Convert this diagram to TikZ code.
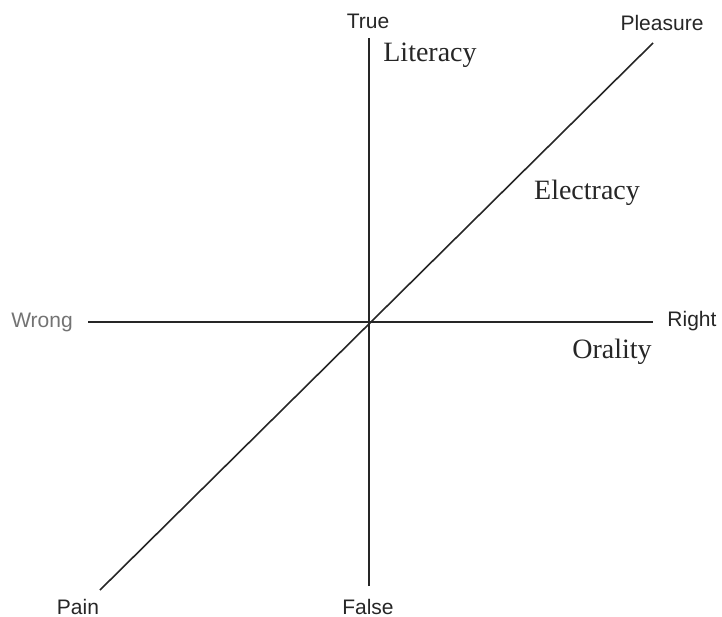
\documentclass[tikz,border=0pt]{standalone}
\usepackage{fontspec}
\setmainfont{Liberation Serif}
\setsansfont{Liberation Sans}
\usetikzlibrary{positioning}

\begin{document}
\begin{tikzpicture}[
    x=0.5pt, y=-0.5pt,
    axis/.style={
        line width=0.8pt,
        draw=black!85
    },
    pole/.style={
        font=\sffamily\fontsize{10.5}{12}\selectfont,
        text=black!85,
        inner sep=0pt
    },
    region/.style={
        font=\fontsize{14}{16}\selectfont,
        text=black!85,
        inner sep=0pt
    }
]
\useasboundingbox (0,0) rectangle (722,616);

% ---- Ends of the three axes ----
\coordinate (origin) at (369,322);
\coordinate (trueend)  at (369,38);
\coordinate (falseend) at (369,586);
\coordinate (wrongend) at (88,322);
\coordinate (rightend) at (653,322);
\coordinate (painend)  at (100,590);
\coordinate (pleasend) at (653,43);

% ---- Axes ----
\draw[axis] (falseend) -- (trueend);
\draw[axis] (wrongend) -- (rightend);
\draw[axis] (painend)  -- (pleasend);

% ---- Pole labels ----
\node[pole] (true)     at (368,21)  {True};
\node[pole] (false)    at (368,607) {False};
\node[pole, text=black!55] (wrong) at (42,322) {Wrong};
\node[pole] (right)    at (692,321) {Right};
\node[pole] (pleasure) at (662,23)  {Pleasure};
\node[pole] (pain)     at (78,607)  {Pain};

% ---- Regions ----
\node[region] (literacy)  at (430,55)  {Literacy};
\node[region] (electracy) at (587,193) {Electracy};
\node[region] (orality)   at (612,352) {Orality};

\end{tikzpicture}
\end{document}
